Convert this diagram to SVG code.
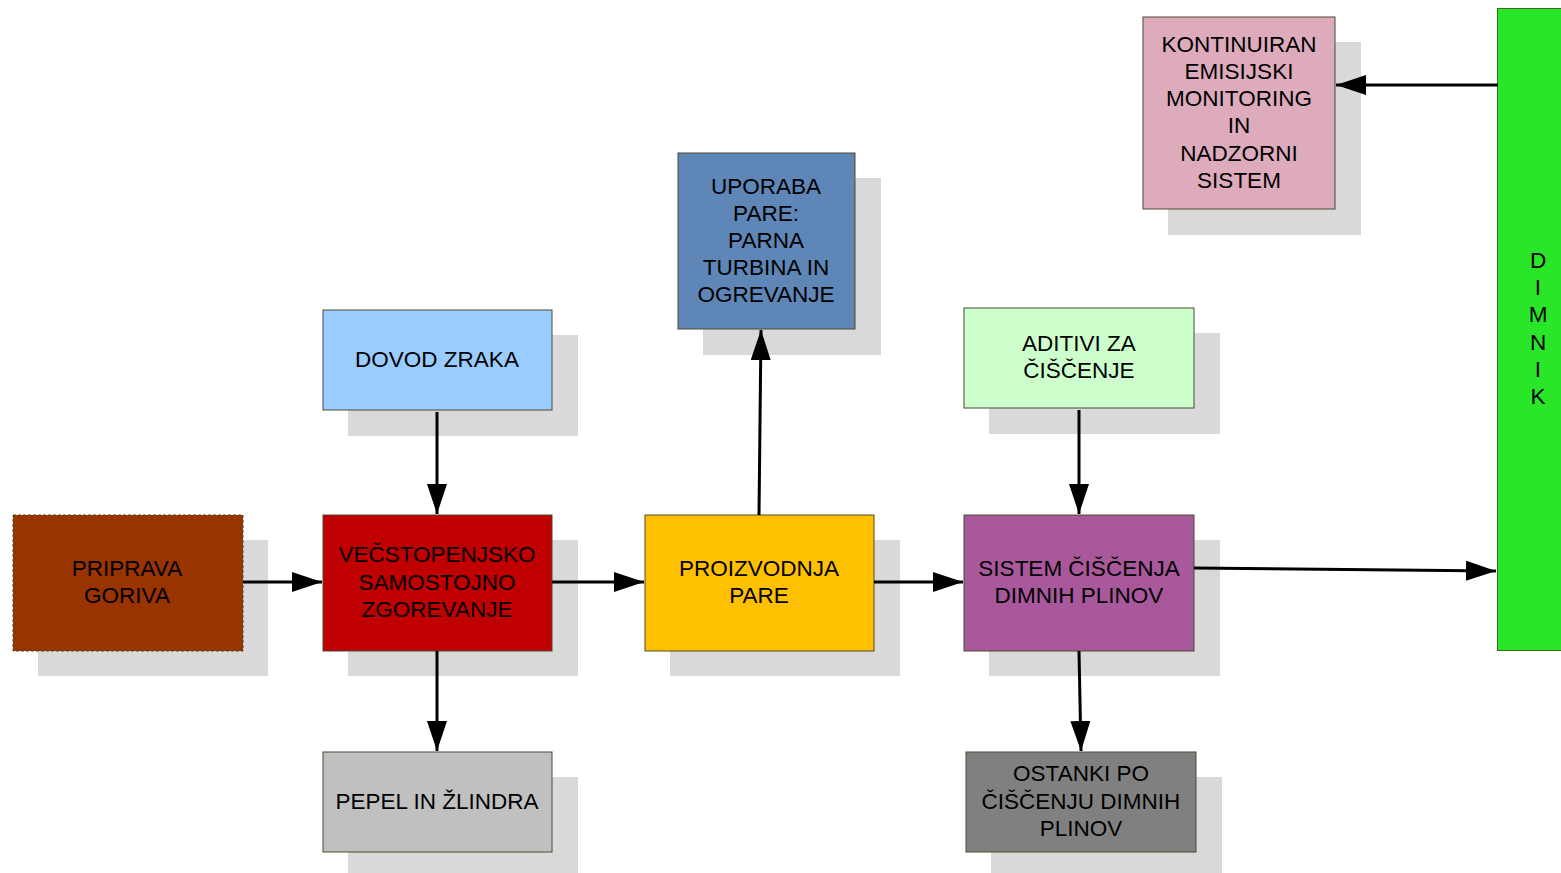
<svg xmlns="http://www.w3.org/2000/svg" width="1561" height="873" viewBox="0 0 1561 873">
  <style>
    .shadow { fill: #d9d9d9; }
    .box { stroke: #4a4a33; stroke-width: 1; }
    .label { font-family: "Liberation Sans", Arial, sans-serif; font-size: 22.5px; fill: #000; text-anchor: middle; dominant-baseline: central; }
    .conn { stroke: #000; stroke-width: 3; fill: none; marker-end: url(#arrow); }
  </style>
  <defs>
    <marker id="arrow" markerUnits="userSpaceOnUse" markerWidth="31" markerHeight="21" refX="30" refY="10" orient="auto">
      <path d="M0,0 L30,10 L0,20 Z" fill="#000"/>
    </marker>
  </defs>
  <rect width="1561" height="873" fill="#fff"/>

  <!-- fuel preparation -->
  <g id="priprava-goriva">
    <rect class="shadow" x="38" y="540" width="230" height="136"/>
    <rect class="box" x="13" y="515" width="230" height="136" fill="#993300" stroke-dasharray="3,2"/>
    <text class="label" x="127" y="568">PRIPRAVA</text>
    <text class="label" x="127" y="595">GORIVA</text>
  </g>

  <!-- multi-stage combustion -->
  <g id="zgorevanje">
    <rect class="shadow" x="348" y="540" width="230" height="136"/>
    <rect class="box" x="323" y="515" width="229" height="136" fill="#c00000"/>
    <text class="label" x="437" y="554">VEČSTOPENJSKO</text>
    <text class="label" x="437" y="582">SAMOSTOJNO</text>
    <text class="label" x="437" y="609">ZGOREVANJE</text>
  </g>

  <!-- air supply -->
  <g id="dovod-zraka">
    <rect class="shadow" x="348" y="335" width="230" height="101"/>
    <rect class="box" x="323" y="310" width="229" height="100" fill="#99ccff"/>
    <text class="label" x="437" y="359">DOVOD ZRAKA</text>
  </g>

  <!-- ash and slag -->
  <g id="pepel">
    <rect class="shadow" x="348" y="777" width="230" height="96"/>
    <rect class="box" x="323" y="752" width="229" height="100" fill="#c0c0c0"/>
    <text class="label" x="437" y="801">PEPEL IN ŽLINDRA</text>
  </g>

  <!-- steam production -->
  <g id="proizvodnja-pare">
    <rect class="shadow" x="670" y="540" width="230" height="136"/>
    <rect class="box" x="645" y="515" width="229" height="136" fill="#ffc000"/>
    <text class="label" x="759" y="568">PROIZVODNJA</text>
    <text class="label" x="759" y="595">PARE</text>
  </g>

  <!-- steam use -->
  <g id="uporaba-pare">
    <rect class="shadow" x="703" y="178" width="178" height="177"/>
    <rect class="box" x="678" y="153" width="177" height="176" fill="#5e86b6"/>
    <text class="label" x="766" y="186">UPORABA</text>
    <text class="label" x="766" y="213">PARE:</text>
    <text class="label" x="766" y="240">PARNA</text>
    <text class="label" x="766" y="267">TURBINA IN</text>
    <text class="label" x="766" y="294">OGREVANJE</text>
  </g>

  <!-- cleaning additives -->
  <g id="aditivi">
    <rect class="shadow" x="989" y="333" width="231" height="101"/>
    <rect class="box" x="964" y="308" width="230" height="100" fill="#ccffcc"/>
    <text class="label" x="1079" y="343">ADITIVI ZA</text>
    <text class="label" x="1079" y="370">ČIŠČENJE</text>
  </g>

  <!-- flue gas cleaning -->
  <g id="sistem-ciscenja">
    <rect class="shadow" x="989" y="540" width="231" height="136"/>
    <rect class="box" x="964" y="515" width="230" height="136" fill="#a9589c"/>
    <text class="label" x="1079" y="568">SISTEM ČIŠČENJA</text>
    <text class="label" x="1079" y="595">DIMNIH PLINOV</text>
  </g>

  <!-- cleaning residues -->
  <g id="ostanki">
    <rect class="shadow" x="991" y="777" width="231" height="96"/>
    <rect class="box" x="966" y="752" width="230" height="100" fill="#808080"/>
    <text class="label" x="1081" y="773">OSTANKI PO</text>
    <text class="label" x="1081" y="801">ČIŠČENJU DIMNIH</text>
    <text class="label" x="1081" y="828">PLINOV</text>
  </g>

  <!-- emission monitoring -->
  <g id="monitoring">
    <rect class="shadow" x="1168" y="42" width="193" height="193"/>
    <rect class="box" x="1143" y="17" width="192" height="192" fill="#ddabbc"/>
    <text class="label" x="1239" y="44">KONTINUIRAN</text>
    <text class="label" x="1239" y="71">EMISIJSKI</text>
    <text class="label" x="1239" y="98">MONITORING</text>
    <text class="label" x="1239" y="125">IN</text>
    <text class="label" x="1239" y="153">NADZORNI</text>
    <text class="label" x="1239" y="180">SISTEM</text>
  </g>

  <!-- chimney -->
  <g id="dimnik">
    <rect x="1497.5" y="8.5" width="70" height="642" fill="#29e629" stroke="#3d6b1f" stroke-width="1"/>
    <text class="label" x="1538" y="260">D</text>
    <text class="label" x="1538" y="287">I</text>
    <text class="label" x="1538" y="314">M</text>
    <text class="label" x="1538" y="342">N</text>
    <text class="label" x="1538" y="369">I</text>
    <text class="label" x="1538" y="396">K</text>
  </g>

  <!-- connectors -->
  <g id="connectors">
    <line class="conn" x1="243" y1="582" x2="322" y2="582"/>
    <line class="conn" x1="552" y1="582" x2="644" y2="582"/>
    <line class="conn" x1="874" y1="582" x2="963" y2="582"/>
    <line class="conn" x1="437" y1="412" x2="437" y2="514"/>
    <line class="conn" x1="437" y1="651" x2="437" y2="751"/>
    <line class="conn" x1="759" y1="515" x2="761" y2="330"/>
    <line class="conn" x1="1079" y1="410" x2="1079" y2="514"/>
    <line class="conn" x1="1079" y1="651" x2="1081" y2="751"/>
    <line class="conn" x1="1194" y1="568" x2="1496" y2="571"/>
    <line class="conn" x1="1498" y1="85" x2="1336" y2="85"/>
  </g>
</svg>
